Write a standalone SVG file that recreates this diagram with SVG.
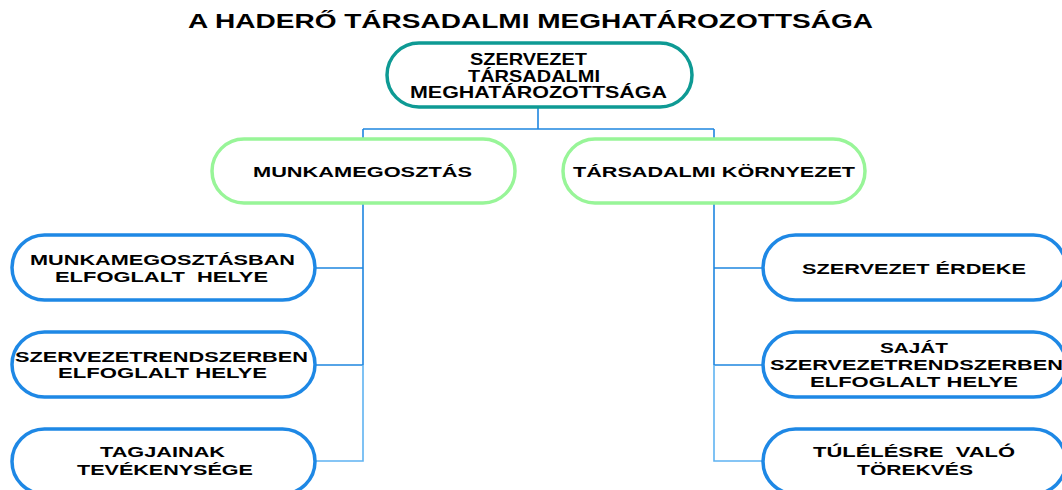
<svg xmlns="http://www.w3.org/2000/svg" width="1062" height="490" viewBox="0 0 1062 490">
  <style>
    text { font-family: "Liberation Sans", Arial, sans-serif; font-weight: bold; fill: #000; white-space: pre; }
    .title { font-size: 21px; }
    .t1 { font-size: 16.5px; }
    .t2 { font-size: 15.5px; }
    .t3 { font-size: 15px; }
    .root { fill: #fff; stroke: #0e9a94; stroke-width: 3.5; }
    .mid { fill: #fff; stroke: #98f598; stroke-width: 3.5; }
    .leaf { fill: #fff; stroke: #1e88e5; stroke-width: 3.5; }
    .wire { fill: none; stroke: #1f86e0; stroke-width: 1.6; }
    .wire2 { fill: none; stroke: #5fb3f2; stroke-width: 1.6; }
  </style>
  <rect width="1062" height="490" fill="#fff"/>

  <text class="title" x="188" y="28" textLength="685" lengthAdjust="spacingAndGlyphs">A HADERŐ TÁRSADALMI MEGHATÁROZOTTSÁGA</text>

  <g id="connectors">
    <path class="wire" d="M538 107 V129 M363 129 H714 M363 129 V139 M714 129 V139"/>
    <path class="wire" d="M363 203 V365 M315 268 H363 M315 365 H363"/>
    <path class="wire2" d="M363 365 V461 H315"/>
    <path class="wire" d="M714 203 V365 M714 268 H763 M714 365 H763"/>
    <path class="wire2" d="M714 365 V461 H763"/>
  </g>

  <g id="root">
    <rect class="root" x="387" y="43" width="305" height="64" rx="32"/>
    <text class="t1" x="470" y="65" textLength="117" lengthAdjust="spacingAndGlyphs">SZERVEZET</text>
    <text class="t1" x="468" y="82" textLength="132" lengthAdjust="spacingAndGlyphs">TÁRSADALMI</text>
    <text class="t1" x="410" y="98" textLength="257" lengthAdjust="spacingAndGlyphs">MEGHATÁROZOTTSÁGA</text>
  </g>

  <g id="munkamegosztas">
    <rect class="mid" x="212" y="139" width="303" height="64" rx="32"/>
    <text class="t2" x="253" y="177" textLength="219" lengthAdjust="spacingAndGlyphs">MUNKAMEGOSZTÁS</text>
  </g>

  <g id="tarsadalmi-kornyezet">
    <rect class="mid" x="563" y="139" width="302" height="64" rx="32"/>
    <text class="t2" x="573" y="177" textLength="282" lengthAdjust="spacingAndGlyphs">TÁRSADALMI KÖRNYEZET</text>
  </g>

  <g id="munkamegosztasban-helye">
    <rect class="leaf" x="12" y="235" width="303" height="65" rx="32.5"/>
    <text class="t3" x="30" y="265" textLength="265" lengthAdjust="spacingAndGlyphs">MUNKAMEGOSZTÁSBAN</text>
    <text class="t3" x="55" y="282" textLength="213" lengthAdjust="spacingAndGlyphs">ELFOGLALT  HELYE</text>
  </g>

  <g id="szervezetrendszerben-helye">
    <rect class="leaf" x="12" y="332" width="303" height="65" rx="32.5"/>
    <text class="t3" x="15" y="362" textLength="293" lengthAdjust="spacingAndGlyphs">SZERVEZETRENDSZERBEN</text>
    <text class="t3" x="58" y="378" textLength="209" lengthAdjust="spacingAndGlyphs">ELFOGLALT HELYE</text>
  </g>

  <g id="tagjainak-tevekenysege">
    <rect class="leaf" x="12" y="429" width="303" height="65" rx="32.5"/>
    <text class="t3" x="100" y="457" textLength="125" lengthAdjust="spacingAndGlyphs">TAGJAINAK</text>
    <text class="t3" x="77" y="475" textLength="176" lengthAdjust="spacingAndGlyphs">TEVÉKENYSÉGE</text>
  </g>

  <g id="szervezet-erdeke">
    <rect class="leaf" x="763" y="235" width="303" height="65" rx="32.5"/>
    <text class="t3" x="802" y="274" textLength="224" lengthAdjust="spacingAndGlyphs">SZERVEZET ÉRDEKE</text>
  </g>

  <g id="sajat-szervezetrendszerben-helye">
    <rect class="leaf" x="763" y="332" width="303" height="65" rx="32.5"/>
    <text class="t3" x="880" y="353" textLength="68" lengthAdjust="spacingAndGlyphs">SAJÁT</text>
    <text class="t3" x="770" y="370" textLength="293" lengthAdjust="spacingAndGlyphs">SZERVEZETRENDSZERBEN</text>
    <text class="t3" x="810" y="387" textLength="208" lengthAdjust="spacingAndGlyphs">ELFOGLALT HELYE</text>
  </g>

  <g id="tulelesre-torekves">
    <rect class="leaf" x="763" y="429" width="303" height="65" rx="32.5"/>
    <text class="t3" x="813" y="457" textLength="202" lengthAdjust="spacingAndGlyphs">TÚLÉLÉSRE  VALÓ</text>
    <text class="t3" x="857" y="475" textLength="116" lengthAdjust="spacingAndGlyphs">TÖREKVÉS</text>
  </g>
</svg>
